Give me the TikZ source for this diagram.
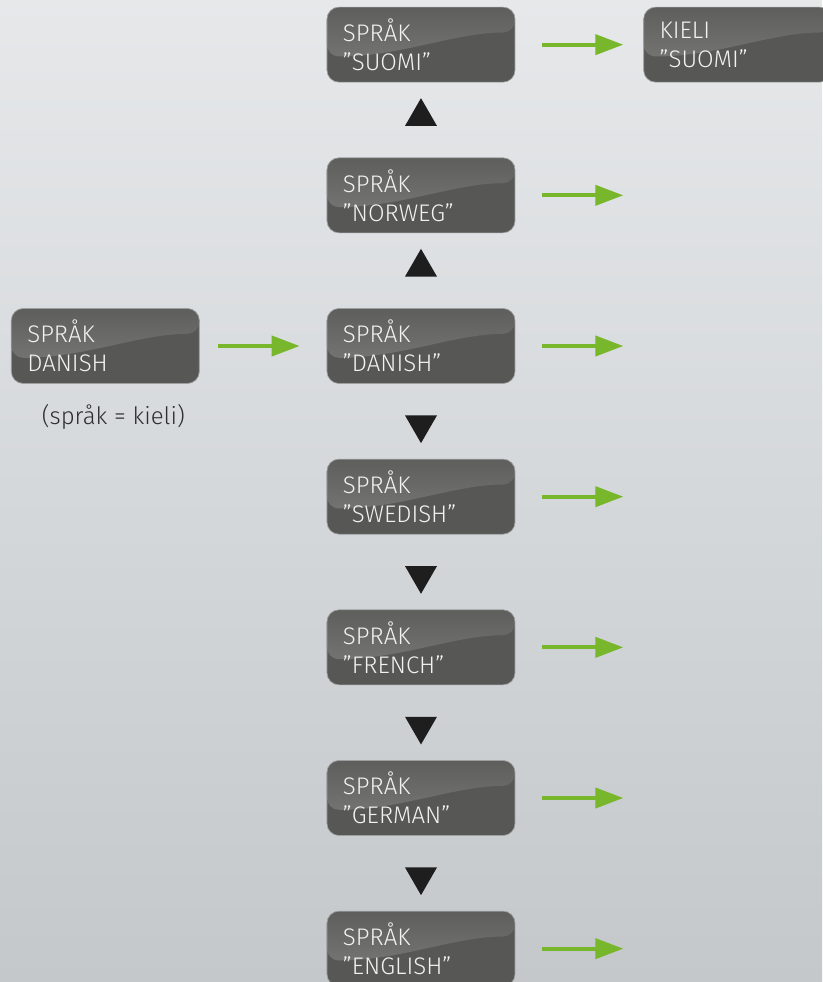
\documentclass[tikz,border=0pt]{standalone}
\usepackage{fontspec}
\setmainfont{Fira Sans Light}
\usetikzlibrary{shapes.geometric, arrows.meta, positioning}

\definecolor{bgtop}{HTML}{E6E8EA}
\definecolor{bgbottom}{HTML}{C4C8CB}
\definecolor{boxdark}{HTML}{575755}
\definecolor{glosstop}{HTML}{5E5E5C}
\definecolor{glossbottom}{HTML}{7E7E7C}
\definecolor{boxrim}{HTML}{9C9E9F}
\definecolor{arrowgreen}{HTML}{78B62C}
\definecolor{tridark}{HTML}{1E1E1E}
\definecolor{notegray}{HTML}{2E2E2E}

\begin{document}
\begin{tikzpicture}[
    node distance=56.25pt and 95.25pt,
    menu/.style={rectangle, draw=boxrim, line width=0.5pt, fill=boxdark, rounded corners=9pt,
        minimum width=141pt, minimum height=56.25pt, inner xsep=12pt, text width=117pt, align=left,
        text=white!95!black, font=\fontsize{18pt}{21.75pt}\selectfont,
        path picture={
            \shade[top color=glosstop, bottom color=glossbottom]
                (path picture bounding box.north west) -- (path picture bounding box.north east)
                -- ([yshift=-19pt]path picture bounding box.north east)
                .. controls ([xshift=-45pt,yshift=-19pt]path picture bounding box.north east)
                and ([xshift=55pt,yshift=-37pt]path picture bounding box.north west)
                .. ([yshift=-37pt]path picture bounding box.north west) -- cycle;
        }},
    tri/.style={regular polygon, regular polygon sides=3, fill=tridark, inner sep=0pt, minimum size=27.7pt},
    tri up/.style={tri, yshift=2.5pt},
    tri down/.style={tri, shape border rotate=180, yshift=-2.5pt},
    line/.style={draw=arrowgreen, line width=3pt, -{Triangle[length=21pt,width=15pt]}, shorten <=20.25pt}
]
    % Background
    \useasboundingbox (-315.75pt,259.5pt) rectangle (300.75pt,-477pt);
    \shade[top color=bgtop, bottom color=bgbottom] (-315.75pt,259.5pt) rectangle (300.75pt,-477pt);

    % Nodes
    \node[menu] (danish) {SPRÅK\\”DANISH”};
    \node[menu, above=of danish] (norweg) {SPRÅK\\”NORWEG”};
    \node[menu, above=of norweg] (suomi) {SPRÅK\\”SUOMI”};
    \node[menu, below=of danish] (swedish) {SPRÅK\\”SWEDISH”};
    \node[menu, below=of swedish] (french) {SPRÅK\\”FRENCH”};
    \node[menu, below=of french] (german) {SPRÅK\\”GERMAN”};
    \node[menu, below=of german] (english) {SPRÅK\\”ENGLISH”};
    \node[menu, right=96pt of suomi] (kieli) {KIELI\\”SUOMI”};

    % Current setting
    \node[menu, left=of danish] (dkbox) {SPRÅK\\DANISH};
    \node[below=15pt of dkbox, xshift=6pt, inner sep=0pt, text=notegray, font=\fontsize{18pt}{20pt}\selectfont] (note) {(språk = kieli)};

    % Up / down keys
    \path (danish) -- node[tri up] {} (norweg);
    \path (norweg) -- node[tri up] {} (suomi);
    \path (danish) -- node[tri down] {} (swedish);
    \path (swedish) -- node[tri down] {} (french);
    \path (french) -- node[tri down] {} (german);
    \path (german) -- node[tri down] {} (english);

    % Arrows
    \path[line, shorten <=13.5pt, shorten >=20.25pt] (dkbox) -- (danish);
    \path[line, shorten >=15pt] (suomi) -- (kieli);
    \foreach \name in {norweg, danish, swedish, french, german, english} {
        \coordinate[right=81pt of \name] (\name-out);
        \path[line] (\name) -- (\name-out);
    }

\end{tikzpicture}
\end{document}
